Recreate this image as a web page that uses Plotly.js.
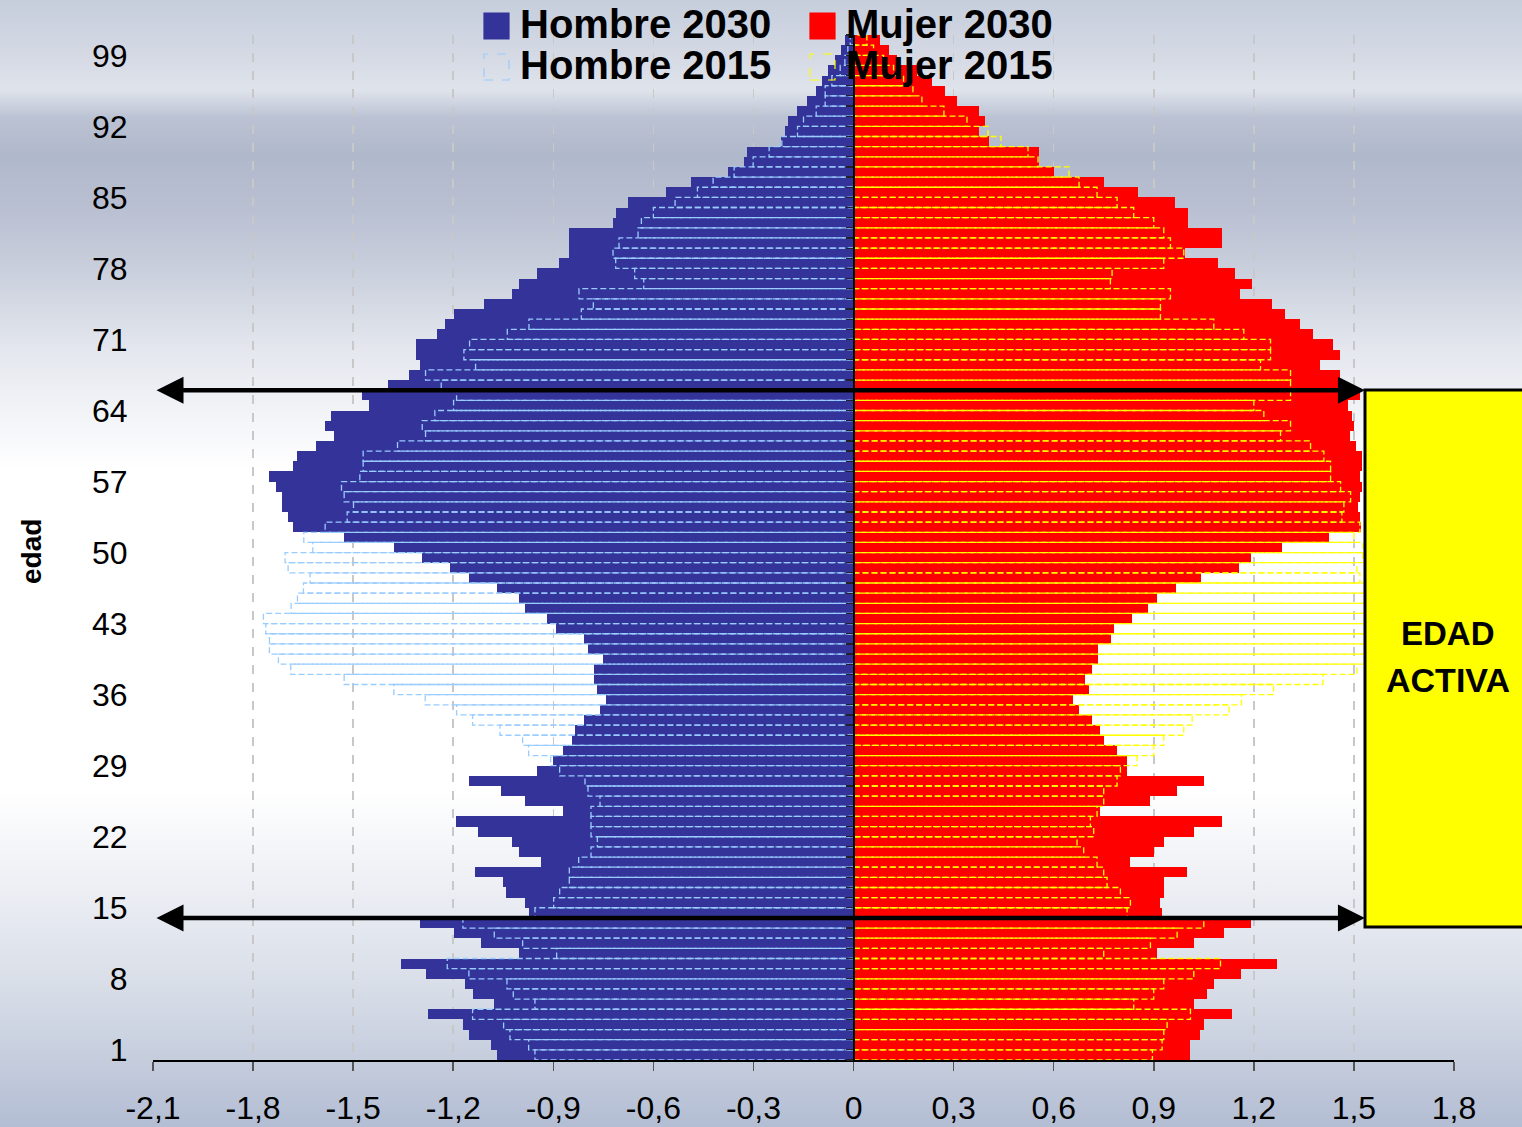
<!DOCTYPE html>
<html>
<head>
<meta charset="utf-8">
<script src="https://cdn.plot.ly/plotly-3.0.1.min.js"></script>
<style>
  html, body { margin: 0; padding: 0; }
  body {
    width: 1522px; height: 1127px; overflow: hidden;
    background: linear-gradient(to bottom,
      #c6cedc 0px, #d4d9e4 55px, #dfe3eb 90px, #bac2d3 118px, #b0b8cb 155px,
      #b9c0d2 210px, #c9cfdc 270px, #e4e7ee 350px, #f6f7fa 430px, #ffffff 470px,
      #ffffff 790px, #eef0f5 880px, #d5dbe6 1000px, #b3bdd3 1127px);
  }
  #chart { width: 1522px; height: 1127px; }
</style>
</head>
<body>
<div id="chart"></div>
<script>
// ages 1..101, one bar each
const ages = Array.from({length: 101}, (_, i) => i + 1);

const hombre2030 = [
  -1.068, -1.086, -1.152, -1.170, -1.275, -1.077, -1.142, -1.164, -1.283, -1.358,
  -1.002, -1.116, -1.199, -1.301, -0.974, -0.984, -1.041, -1.050, -1.134, -0.936,
  -1.002, -1.023, -1.125, -1.191, -0.870, -0.984, -1.058, -1.152, -0.948, -0.900,
  -0.870, -0.843, -0.835, -0.807, -0.760, -0.741, -0.768, -0.778, -0.778, -0.751,
  -0.796, -0.807, -0.891, -0.919, -0.984, -1.002, -1.068, -1.152, -1.209, -1.293,
  -1.379, -1.526, -1.679, -1.696, -1.714, -1.714, -1.732, -1.753, -1.679, -1.667,
  -1.612, -1.556, -1.583, -1.565, -1.454, -1.472, -1.397, -1.332, -1.301, -1.313,
  -1.313, -1.248, -1.226, -1.199, -1.107, -1.023, -1.002, -0.948, -0.882, -0.852,
  -0.852, -0.852, -0.721, -0.711, -0.676, -0.562, -0.487, -0.376, -0.328, -0.320,
  -0.218, -0.206, -0.197, -0.169, -0.140, -0.112, -0.095, -0.077, -0.056, -0.038,
  -0.026
];

const mujer2030 = [
  1.010, 1.010, 1.040, 1.050, 1.135, 1.020, 1.060, 1.080, 1.160, 1.270,
  0.910, 1.020, 1.110, 1.190, 0.925, 0.920, 0.930, 0.930, 1.000, 0.830,
  0.900, 0.930, 1.020, 1.105, 0.740, 0.890, 0.970, 1.050, 0.820, 0.820,
  0.790, 0.750, 0.740, 0.715, 0.676, 0.658, 0.706, 0.694, 0.715, 0.733,
  0.733, 0.772, 0.781, 0.835, 0.883, 0.910, 0.967, 1.042, 1.156, 1.191,
  1.285, 1.425, 1.521, 1.518, 1.512, 1.518, 1.524, 1.518, 1.524, 1.524,
  1.506, 1.488, 1.500, 1.494, 1.482, 1.518, 1.452, 1.458, 1.398, 1.458,
  1.437, 1.377, 1.338, 1.293, 1.254, 1.158, 1.194, 1.143, 1.092, 0.994,
  1.105, 1.105, 1.003, 1.003, 0.964, 0.853, 0.750, 0.600, 0.556, 0.556,
  0.406, 0.376, 0.394, 0.376, 0.310, 0.274, 0.235, 0.190, 0.130, 0.105,
  0.080
];

const hombre2015 = [
  -0.955, -0.974, -1.030, -1.049, -1.142, -0.955, -1.020, -1.039, -1.153, -1.218,
  -0.890, -0.992, -1.077, -1.171, -0.955, -0.899, -0.881, -0.852, -0.852, -0.824,
  -0.787, -0.768, -0.787, -0.787, -0.787, -0.760, -0.796, -0.805, -0.881, -0.908,
  -0.974, -0.992, -1.060, -1.142, -1.190, -1.284, -1.378, -1.527, -1.687, -1.724,
  -1.751, -1.751, -1.762, -1.769, -1.686, -1.667, -1.649, -1.629, -1.695, -1.704,
  -1.621, -1.648, -1.584, -1.518, -1.499, -1.527, -1.535, -1.480, -1.470, -1.470,
  -1.367, -1.283, -1.293, -1.255, -1.199, -1.190, -1.236, -1.283, -1.133, -1.168,
  -1.151, -1.038, -0.973, -0.816, -0.780, -0.823, -0.629, -0.656, -0.713, -0.721,
  -0.703, -0.646, -0.636, -0.600, -0.535, -0.468, -0.421, -0.358, -0.301, -0.253,
  -0.215, -0.168, -0.150, -0.112, -0.085, -0.085, -0.065, -0.040, -0.026, -0.017,
  -0.010
];

const mujer2015 = [
  0.896, 0.925, 0.930, 0.940, 1.010, 0.840, 0.900, 0.930, 1.020, 1.100,
  0.750, 0.890, 0.970, 1.050, 0.820, 0.830, 0.800, 0.760, 0.750, 0.730,
  0.690, 0.670, 0.720, 0.710, 0.730, 0.750, 0.750, 0.790, 0.800, 0.850,
  0.900, 0.930, 0.990, 1.015, 1.126, 1.163, 1.259, 1.407, 1.509, 1.550,
  1.550, 1.550, 1.550, 1.550, 1.550, 1.550, 1.550, 1.518, 1.509, 1.527,
  1.527, 1.500, 1.518, 1.464, 1.470, 1.490, 1.460, 1.430, 1.430, 1.410,
  1.370, 1.280, 1.310, 1.230, 1.200, 1.310, 1.310, 1.310, 1.220, 1.250,
  1.250, 1.170, 1.080, 0.920, 0.920, 0.950, 0.770, 0.775, 0.930, 0.990,
  0.950, 0.930, 0.900, 0.840, 0.790, 0.730, 0.676, 0.646, 0.553, 0.523,
  0.442, 0.403, 0.340, 0.271, 0.205, 0.178, 0.150, 0.120, 0.090, 0.060,
  0.040
];

const ageTicks = [1, 8, 15, 22, 29, 36, 43, 50, 57, 64, 71, 78, 85, 92, 99];
const xTickVals = [-2.1, -1.8, -1.5, -1.2, -0.9, -0.6, -0.3, 0, 0.3, 0.6, 0.9, 1.2, 1.5, 1.8];
const xTickText = ['-2,1', '-1,8', '-1,5', '-1,2', '-0,9', '-0,6', '-0,3', '0', '0,3', '0,6', '0,9', '1,2', '1,5', '1,8'];

// active age band marked by the arrows
const activeLow = 14.5;
const activeHigh = 66.5;

const FONT = '"Liberation Sans", Arial, sans-serif';

// dashed outline of each 2015 bar
const outline = (vals) => {
  const xs = [], ys = [];
  vals.forEach((v, i) => {
    const a = ages[i];
    xs.push(0, v, v, 0, null);
    ys.push(a - 0.5, a - 0.5, a + 0.5, a + 0.5, null);
  });
  return {xs, ys};
};

const h15 = outline(hombre2015);
const m15 = outline(mujer2015);

const traces = [
  {type: 'bar', orientation: 'h', y: ages, x: hombre2030, name: 'Hombre 2030',
   marker: {color: '#333399', line: {width: 0}}},
  {type: 'bar', orientation: 'h', y: ages, x: mujer2030, name: 'Mujer 2030',
   marker: {color: '#ff0000', line: {width: 0}}},
  {type: 'scatter', mode: 'lines', x: h15.xs, y: h15.ys, yaxis: 'y2', name: 'Hombre 2015',
   line: {color: '#99ccff', width: 1.3, dash: '6px,3px'}, connectgaps: false},
  {type: 'scatter', mode: 'lines', x: m15.xs, y: m15.ys, yaxis: 'y2', name: 'Mujer 2015',
   line: {color: '#ffff00', width: 1.3, dash: '6px,3px'}, connectgaps: false}
];

// paper coords helpers (plot area: x 153..1454, y 35..1060)
const px = (p) => (p - 153) / 1301;
const py = (p) => (1060 - p) / 1025;

const legendItems = [
  {label: 'Hombre 2030', x: 484, y: 26, fill: '#333399', line: '#333399', dash: 'solid'},
  {label: 'Mujer 2030', x: 810, y: 26, fill: '#ff0000', line: '#ff0000', dash: 'solid'},
  {label: 'Hombre 2015', x: 484, y: 67, fill: 'rgba(0,0,0,0)', line: '#99ccff', dash: 'dash'},
  {label: 'Mujer 2015', x: 810, y: 67, fill: 'rgba(0,0,0,0)', line: '#ffff00', dash: 'dash'}
];

const shapes = [
  {type: 'rect', xref: 'paper', yref: 'paper', layer: 'above',
   x0: px(1365), x1: px(1530), y0: py(927), y1: py(390),
   fillcolor: '#ffff00', line: {color: '#000000', width: 3}}
];
const annotations = [];

legendItems.forEach(it => {
  shapes.push({type: 'rect', xref: 'paper', yref: 'paper', layer: 'above',
    x0: px(it.x), x1: px(it.x + 25), y0: py(it.y + 13), y1: py(it.y - 13),
    fillcolor: it.fill, line: {color: it.line, width: 1.2, dash: it.dash}});
  annotations.push({xref: 'paper', yref: 'paper', x: px(it.x + 34), y: py(it.y - 2),
    xanchor: 'left', yanchor: 'middle', showarrow: false, text: it.label,
    font: {family: FONT, size: 40, color: '#000000', weight: 'bold'}});
});

// double headed arrows
[activeHigh, activeLow].forEach(yv => {
  annotations.push({xref: 'x', yref: 'y', axref: 'x', ayref: 'y',
    x: 1.533, y: yv, ax: -2.094, ay: yv, text: '', showarrow: true,
    arrowside: 'end+start', arrowhead: 2, startarrowhead: 2,
    arrowsize: 1.2, startarrowsize: 1.2, arrowwidth: 4.5, arrowcolor: '#000000'});
});

annotations.push(
  {xref: 'paper', yref: 'paper', x: px(1448), y: py(633), text: 'EDAD', showarrow: false,
   xanchor: 'center', yanchor: 'middle', font: {family: FONT, size: 33, color: '#000', weight: 'bold'}},
  {xref: 'paper', yref: 'paper', x: px(1448), y: py(680), text: 'ACTIVA', showarrow: false,
   xanchor: 'center', yanchor: 'middle', font: {family: FONT, size: 34, color: '#000', weight: 'bold'}},
  {xref: 'paper', yref: 'paper', x: px(31), y: py(552), text: 'edad', showarrow: false,
   textangle: -90, xanchor: 'center', yanchor: 'middle',
   font: {family: FONT, size: 28, color: '#000', weight: 'bold'}}
);

const layout = {
  width: 1522, height: 1127,
  margin: {l: 153, r: 68, t: 35, b: 67},
  paper_bgcolor: 'rgba(0,0,0,0)',
  plot_bgcolor: 'rgba(0,0,0,0)',
  barmode: 'overlay', bargap: 0,
  showlegend: false,
  font: {family: FONT, color: '#000000'},
  xaxis: {
    range: [-2.1, 1.8], tickmode: 'array', tickvals: xTickVals, ticktext: xTickText,
    ticks: 'outside', ticklen: 9, tickwidth: 1.5, tickcolor: '#555555',
    showline: true, linecolor: '#000000', linewidth: 1.5,
    showgrid: true, gridcolor: '#c8c8c8', gridwidth: 1.5, griddash: 'dash',
    zeroline: false, tickfont: {size: 32}, ticklabelstandoff: 10
  },
  yaxis: {
    range: [0.5, 101.5], tickmode: 'array', tickvals: ageTicks, ticktext: ageTicks.map(String),
    ticks: 'outside', ticklen: 18, tickcolor: 'rgba(0,0,0,0)',
    showline: false, showgrid: false, zeroline: false, tickfont: {size: 32},
    ticklabelshift: -5
  },
  yaxis2: {
    overlaying: 'y', anchor: 'free', position: 2.1 / 3.9, range: [0.5, 101.5],
    tickmode: 'linear', tick0: 0.5, dtick: 1, ticks: 'outside', ticklen: 7,
    tickwidth: 1.2, tickcolor: '#222222', showticklabels: false,
    showline: true, linecolor: '#000000', linewidth: 2, showgrid: false, zeroline: false
  },
  shapes: shapes,
  annotations: annotations
};

Plotly.newPlot('chart', traces, layout, {staticPlot: true});
</script>
</body>
</html>
